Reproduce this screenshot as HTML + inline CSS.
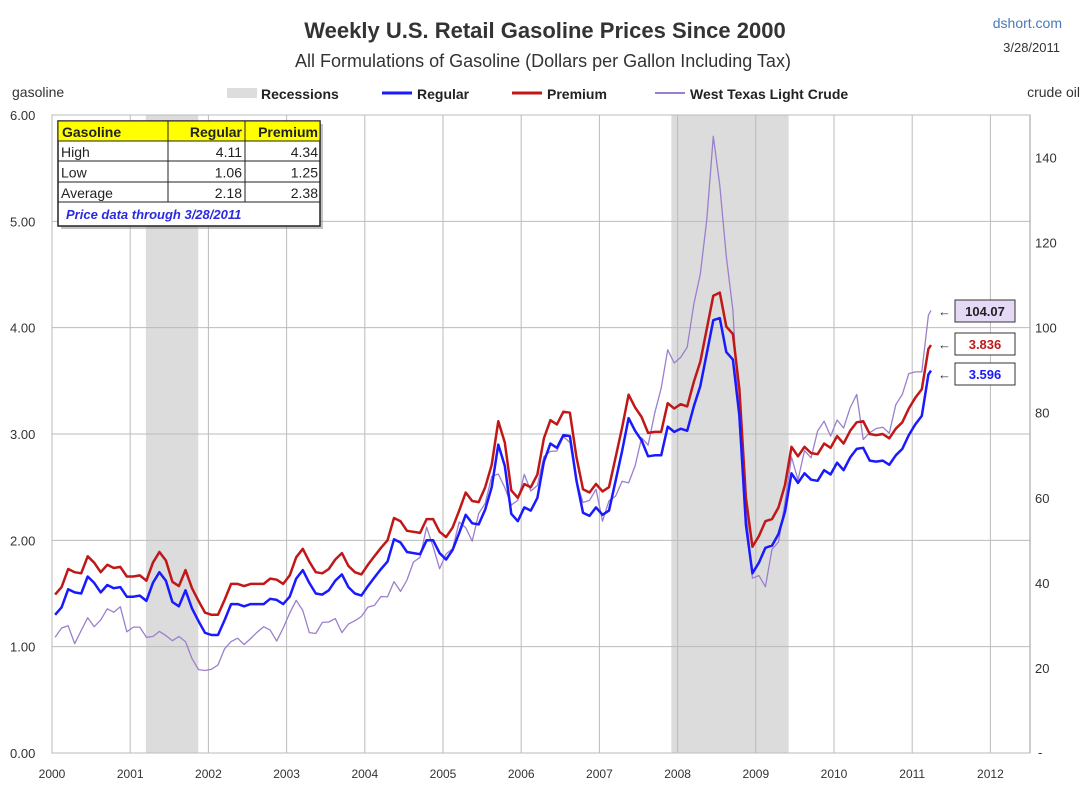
<!DOCTYPE html>
<html><head><meta charset="utf-8"><style>
body{margin:0;background:#fff;font-family:"Liberation Sans",sans-serif}
#wrap{position:relative;width:1088px;height:796px;overflow:hidden;background:#fff}
</style></head><body>
<div id="wrap">
<svg id="chart" width="1088" height="796" xmlns="http://www.w3.org/2000/svg">
<text x="545" y="38" text-anchor="middle" font-size="22" font-weight="bold" fill="#333">Weekly U.S. Retail Gasoline Prices Since 2000</text>
<text x="543" y="67" text-anchor="middle" font-size="18" fill="#333">All Formulations of Gasoline (Dollars per Gallon Including Tax)</text>
<text x="1062" y="28" text-anchor="end" font-size="14" fill="#4a7ab5">dshort.com</text>
<text x="1060" y="52" text-anchor="end" font-size="13" fill="#333">3/28/2011</text>
<text x="12" y="97" font-size="14" fill="#333">gasoline</text>
<text x="1080" y="97" text-anchor="end" font-size="14" fill="#333">crude oil</text>
<g>
<rect x="227" y="88" width="30" height="10" fill="#ddd"/>
<text x="261" y="99" font-size="14" font-weight="bold" fill="#222">Recessions</text>
<line x1="382" y1="93" x2="412" y2="93" stroke="#1a1aff" stroke-width="3"/>
<text x="417" y="99" font-size="14" font-weight="bold" fill="#222">Regular</text>
<line x1="512" y1="93" x2="542" y2="93" stroke="#c01818" stroke-width="3"/>
<text x="547" y="99" font-size="14" font-weight="bold" fill="#222">Premium</text>
<line x1="655" y1="93" x2="685" y2="93" stroke="#9b7fcc" stroke-width="2"/>
<text x="690" y="99" font-size="14" font-weight="bold" fill="#222">West Texas Light Crude</text>
</g>
<g id="plot"></g>
</svg>
</div>
<script>
const years=[2000,2001,2002,2003,2004,2005,2006,2007,2008,2009,2010,2011,2012];
const leftTicks=[0,1,2,3,4,5,6];
const rightTicks=[20,40,60,80,100,120,140];
const recessions=[[2001.2,2001.87],[2007.92,2009.42]];
const startYear=2000;
const regular=[1.30,1.37,1.54,1.51,1.50,1.66,1.60,1.51,1.58,1.55,1.56,1.47,
1.47,1.48,1.43,1.60,1.70,1.62,1.42,1.38,1.53,1.36,1.24,1.13,
1.11,1.11,1.25,1.40,1.40,1.38,1.40,1.40,1.40,1.45,1.44,1.40,
1.47,1.64,1.72,1.60,1.50,1.49,1.53,1.62,1.68,1.56,1.50,1.48,
1.57,1.65,1.73,1.80,2.01,1.98,1.89,1.88,1.87,2.00,2.00,1.88,
1.82,1.91,2.07,2.24,2.16,2.15,2.29,2.50,2.90,2.70,2.25,2.18,
2.31,2.28,2.40,2.74,2.91,2.87,2.99,2.98,2.56,2.26,2.23,2.31,
2.24,2.28,2.56,2.84,3.15,3.03,2.94,2.79,2.80,2.80,3.07,3.02,
3.05,3.03,3.26,3.45,3.76,4.07,4.09,3.77,3.70,3.17,2.15,1.69,
1.79,1.93,1.95,2.06,2.27,2.63,2.54,2.63,2.57,2.56,2.66,2.62,
2.73,2.66,2.78,2.86,2.87,2.75,2.74,2.75,2.71,2.80,2.86,2.99,
3.09,3.17,3.56];
const premium=[1.49,1.56,1.73,1.70,1.69,1.85,1.79,1.70,1.77,1.74,1.75,1.66,
1.66,1.67,1.62,1.79,1.89,1.81,1.61,1.57,1.72,1.55,1.43,1.32,
1.30,1.30,1.44,1.59,1.59,1.57,1.59,1.59,1.59,1.64,1.63,1.59,
1.67,1.84,1.92,1.80,1.70,1.69,1.73,1.82,1.88,1.76,1.70,1.68,
1.77,1.85,1.93,2.00,2.21,2.18,2.09,2.08,2.07,2.20,2.20,2.08,
2.03,2.12,2.28,2.45,2.37,2.36,2.50,2.71,3.12,2.92,2.47,2.40,
2.53,2.50,2.62,2.96,3.13,3.09,3.21,3.20,2.78,2.48,2.45,2.53,
2.46,2.50,2.78,3.06,3.37,3.25,3.16,3.01,3.02,3.02,3.29,3.24,
3.28,3.26,3.49,3.68,3.99,4.30,4.33,4.01,3.94,3.42,2.40,1.94,
2.04,2.18,2.20,2.31,2.52,2.88,2.79,2.88,2.82,2.81,2.91,2.87,
2.98,2.91,3.03,3.11,3.12,3.00,2.99,3.00,2.96,3.05,3.11,3.24,
3.34,3.42,3.80];
const crude=[27.2,29.4,29.9,25.7,28.8,31.8,29.7,31.3,33.9,33.1,34.4,28.5,
29.6,29.6,27.2,27.4,28.6,27.6,26.4,27.4,26.2,22.2,19.6,19.4,
19.7,20.7,24.5,26.2,27.0,25.5,26.9,28.4,29.7,28.9,26.3,29.4,
32.9,35.9,33.5,28.3,28.1,30.7,30.8,31.6,28.3,30.3,31.1,32.1,
34.3,34.7,36.8,36.7,40.3,38.0,40.7,44.9,46.0,53.1,48.5,43.3,
46.8,48.0,54.3,53.0,49.8,56.3,58.7,65.0,65.6,62.4,58.3,59.4,
65.5,61.6,62.9,69.7,70.9,71.0,74.4,73.0,63.8,58.9,59.4,62.0,
54.5,59.3,60.4,63.9,63.5,67.5,74.1,72.4,79.9,85.8,94.8,91.7,
93.0,95.4,105.5,112.6,125.4,145.0,133.4,116.7,104.1,76.6,57.3,41.1,
41.7,39.1,47.9,49.6,59.0,69.6,64.2,71.1,69.4,75.7,78.0,74.5,
78.3,76.4,81.2,84.3,73.7,75.3,76.3,76.6,75.2,81.9,84.3,89.2,
89.6,89.6,102.9];
const lastDate=2011.24;
const lastRegular=3.596, lastPremium=3.836, lastCrude=104.07;
const tableRows=[["High","4.11","4.34"],["Low","1.06","1.25"],["Average","2.18","2.38"]];

const NS="http://www.w3.org/2000/svg";
const X0=52,X1=1030,Y0=753,Y1=115;
const xs=d=>X0+(d-2000)*78.2;
const yL=v=>Y0-(v/6)*(Y0-Y1);
const yR=v=>Y0-(v/150)*(Y0-Y1);
const plot=document.getElementById('plot');
function mk(tag,attrs,parent){const e=document.createElementNS(NS,tag);for(const k in attrs)e.setAttribute(k,attrs[k]);(parent||plot).appendChild(e);return e;}
mk('rect',{x:X0,y:Y1,width:X1-X0,height:Y0-Y1,fill:'#fff',stroke:'#999'});
recessions.forEach((r,i)=>{const e=mk('rect',{x:xs(r[0]),y:Y1,width:xs(r[1])-xs(r[0]),height:Y0-Y1,fill:'#dcdcdc'});

});
years.forEach(yr=>{const x=xs(yr);
mk('line',{x1:x,y1:Y1,x2:x,y2:Y0,stroke:'#bbb','stroke-width':1});
const t=mk('text',{x:x,y:Y0+25,'text-anchor':'middle','font-size':12,fill:'#333'});t.textContent=yr;

});
leftTicks.forEach(v=>{const y=yL(v);
mk('line',{x1:X0,y1:y,x2:X1,y2:y,stroke:'#bbb','stroke-width':1});
const t=mk('text',{x:10,y:y+5,'font-size':13,fill:'#333'});t.textContent=v.toFixed(2);

});
rightTicks.forEach(v=>{const t=mk('text',{x:1035,y:yR(v)+5,'font-size':13,fill:'#333'});t.textContent=v;

});
const dash=mk('text',{x:1038,y:Y0+4,'font-size':13,fill:'#333'});dash.textContent='-';
function series(arr,last,yf,color,w,name){
 let pts=arr.map((v,i)=>xs(startYear+i/12+0.04).toFixed(1)+','+yf(v).toFixed(1));
 pts.push(xs(lastDate).toFixed(1)+','+yf(last).toFixed(1));
 const p=mk('polyline',{points:pts.join(' '),fill:'none',stroke:color,'stroke-width':w,'stroke-linejoin':'round'});
 
 
}
series(crude,lastCrude,yR,'#9b7fcc',1.3,'crude-oil-line');
series(premium,lastPremium,yL,'#c01818',2.5,'premium-line');
series(regular,lastRegular,yL,'#1a1aff',2.5,'regular-line');
function callout(y,txt,color,bg,name){
 const a=mk('text',{x:938,y:y+5,'font-size':13,fill:'#333'});a.textContent='←';
 const g=mk('g',{});
 
 
 mk('rect',{x:955,y:y-11,width:60,height:22,fill:bg,stroke:'#333'},g);
 const t=mk('text',{x:985,y:y+5,'text-anchor':'middle','font-size':13,'font-weight':'bold',fill:color},g);t.textContent=txt;}
callout(311,lastCrude.toFixed(2),'#222','#e6d9f5','crude-callout');
callout(344,lastPremium.toFixed(3),'#c01818','#fff','premium-callout');
callout(374,lastRegular.toFixed(3),'#1a1aff','#fff','regular-callout');
const tg=mk('g',{});


mk('rect',{x:61,y:124,width:262,height:105,fill:'#888',opacity:0.5},tg);
mk('rect',{x:58,y:121,width:262,height:105,fill:'#fff',stroke:'#222','stroke-width':1.5},tg);
mk('rect',{x:58,y:121,width:262,height:20,fill:'#ffff00',stroke:'#222'},tg);
[141,161,182,202].forEach(y=>mk('line',{x1:58,y1:y,x2:320,y2:y,stroke:'#222'},tg));
[168,245].forEach(x=>mk('line',{x1:x,y1:121,x2:x,y2:202,stroke:'#222'},tg));
function tt(x,y,s,anchor,bold){const t=mk('text',{x:x,y:y,'font-size':14,'text-anchor':anchor,'font-weight':bold?'bold':'normal',fill:'#222'},tg);t.textContent=s;}
tt(62,137,'Gasoline','start',1);tt(242,137,'Regular','end',1);tt(318,137,'Premium','end',1);
tableRows.forEach((r,i)=>{const y=157+i*20.5;tt(61,y,r[0],'start');tt(242,y,r[1],'end');tt(318,y,r[2],'end');});
const note=mk('text',{x:66,y:219,'font-size':13,'font-style':'italic','font-weight':'bold',fill:'#2a2ae0'},tg);note.textContent='Price data through 3/28/2011';
</script>
</body></html>
